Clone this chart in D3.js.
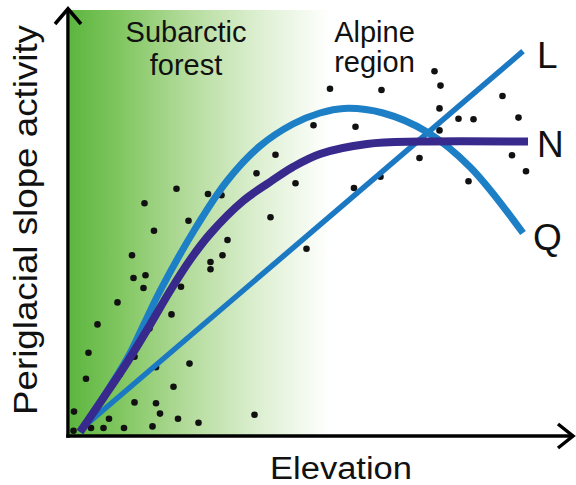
<!DOCTYPE html>
<html>
<head>
<meta charset="utf-8">
<script src="https://cdn.jsdelivr.net/npm/d3@7"></script>
<style>
  html, body { margin: 0; padding: 0; background: #fff; }
  svg { display: block; }
  text { font-family: "Liberation Sans", Arial, sans-serif; fill: #111; }
</style>
</head>
<body>
<svg id="chart" width="576" height="485"></svg>
<script>
// Observed sites: elevation (x) vs periglacial slope activity (y), arbitrary units
const obsElevation = [14.9, 23.7, 40.1, 16.8, 31.5, 12.4, 30.5, 28.1, 28.1, 47.3,
  12.7, 15.1, 14.7, 22.2, 9.5, 20.3, 5.5, 15.9, 3.7, 12.9,
  17.2, 23.9, 10.0, 3.2, 20.7, 12.9, 17.2, 18.0, 0.8, 5.2,
  7.8, 21.6, 25.7, 36.9, 0.7, 4.2, 6.7, 10.8, 16.5, 48.7,
  41.1, 37.3, 45.1, 21.3, 27.6, 30.3, 72.9, 74.1, 52.0, 62.3,
  86.5, 73.9, 77.7, 80.7, 89.7, 57.1, 73.9, 88.4, 69.9, 62.1,
  91.2, 79.7, 56.8];
const obsActivity = [58.2, 53.8, 54.7, 51.3, 49.0, 45.2, 45.2, 43.5, 41.7, 46.8,
  39.5, 40.2, 37.0, 37.3, 33.4, 30.4, 27.9, 26.9, 20.8, 19.8,
  17.2, 18.1, 15.5, 14.3, 12.3, 8.4, 8.2, 5.6, 6.1, 5.9,
  4.3, 4.3, 3.3, 5.3, 1.3, 2.0, 2.0, 2.0, 2.4, 77.7,
  70.3, 65.7, 63.2, 61.8, 60.5, 60.2, 91.2, 87.6, 86.8, 86.5,
  85.0, 81.9, 79.3, 79.2, 79.6, 77.3, 76.4, 70.2, 69.5, 64.8,
  66.2, 63.7, 62.0];

// Response models: linear (L), quadratic (Q) and non-linear saturating (N)
const modelL = [[2, 1.5], [90.6, 96.2]];
const modelQ = [[2, 1], [6.8, 10], [11.6, 19.75], [14.8, 28], [18, 36.25], [25, 51.75],
  [31.4, 63.75], [38, 72.5], [44.6, 78], [50, 80.75], [54.8, 81.9], [62.6, 80.75],
  [71.4, 76], [80, 67.25], [90.6, 50.75]];
const modelN = [[2, 1], [6.8, 9.75], [11.6, 18.75], [16, 27.75], [20, 36.25], [24, 44],
  [28, 50.5], [34.6, 58.75], [40, 63.5], [44.6, 67.25], [50, 70.5], [59.4, 73],
  [70, 73.6], [91.6, 73.6]];

const modelLabels = ["L", "N", "Q"];
const zoneLabels = [["Subarctic", "forest"], ["Alpine", "region"]];
const xTitle = "Elevation";
const yTitle = "Periglacial slope activity";

const svg = d3.select("#chart");

const x = d3.scaleLinear().domain([0, 100]).range([70, 570]);
const y = d3.scaleLinear().domain([0, 100]).range([436, 36]);

// forest zone background: green fading out with elevation
const defs = svg.append("defs");
const grad = defs.append("linearGradient").attr("id", "forestFade")
  .attr("x1", "0%").attr("x2", "100%").attr("y1", "0%").attr("y2", "0%");
[["0%", "#5db63f"], ["20%", "#82c762"], ["45%", "#b3db9b"], ["72%", "#dcefd0"], ["100%", "#ffffff"]]
  .forEach(([o, c]) => grad.append("stop").attr("offset", o).attr("stop-color", c));

svg.append("rect")
  .attr("x", x(0)).attr("y", y(106.5))
  .attr("width", x(52) - x(0)).attr("height", y(0) - y(106.5))
  .attr("fill", "url(#forestFade)");

// observations
svg.append("g").selectAll("circle")
  .data(d3.range(obsElevation.length))
  .join("circle")
  .attr("cx", i => x(obsElevation[i]))
  .attr("cy", i => y(obsActivity[i]))
  .attr("r", 3.3)
  .attr("fill", "#111");

// model curves
const line = d3.line().x(d => x(d[0])).y(d => y(d[1]));
const smooth = d3.line().x(d => x(d[0])).y(d => y(d[1])).curve(d3.curveCatmullRom.alpha(0.5));

svg.append("path").attr("d", line(modelL))
  .attr("fill", "none").attr("stroke", "#1b79c3").attr("stroke-width", 5.5);
svg.append("path").attr("d", smooth(modelQ))
  .attr("fill", "none").attr("stroke", "#1d7fc6").attr("stroke-width", 7);
svg.append("path").attr("d", smooth(modelN))
  .attr("fill", "none").attr("stroke", "#38298c").attr("stroke-width", 8);

// axes (no ticks), with open arrow heads
const axisG = svg.append("g").attr("fill", "none").attr("stroke", "#000")
  .attr("stroke-width", 3.5).attr("stroke-linecap", "butt");
axisG.append("line")
  .attr("x1", x(0) - 2).attr("x2", x(0) - 2)
  .attr("y1", y(0) + 1.75).attr("y2", y(106.5));
axisG.append("line")
  .attr("x1", x(0) - 3.75).attr("x2", x(100.6))
  .attr("y1", y(0)).attr("y2", y(0));
axisG.append("path")
  .attr("d", `M${x(0) - 15},${y(103)} L${x(0) - 2},${y(106.8)} L${x(0) + 11},${y(103)}`)
  .attr("stroke-linejoin", "miter");
axisG.append("path")
  .attr("d", `M${x(97.6)},${y(3)} L${x(100.6)},${y(0)} L${x(97.6)},${y(-3)}`)
  .attr("stroke-linejoin", "miter");

// zone labels
const zoneX = [x(23.2), x(60.9)];
const zoneY = [[42, 75], [42, 72]];
zoneLabels.forEach((lines, i) => {
  lines.forEach((t, j) => {
    svg.append("text").attr("x", zoneX[i]).attr("y", zoneY[i][j])
      .attr("text-anchor", "middle").attr("font-size", 29).text(t);
  });
});

// model labels at line ends
const labelPos = [[x(93.4), 68], [x(93.4), 157], [x(92.6), 250]];
modelLabels.forEach((t, i) => {
  svg.append("text").attr("x", labelPos[i][0]).attr("y", labelPos[i][1])
    .attr("font-size", 37).text(t);
});

// axis titles
svg.append("text").attr("x", 341).attr("y", 479)
  .attr("text-anchor", "middle").attr("font-size", 31)
  .attr("textLength", 142).attr("lengthAdjust", "spacingAndGlyphs")
  .text(xTitle);
svg.append("text")
  .attr("transform", "translate(37,220) rotate(-90)")
  .attr("text-anchor", "middle").attr("font-size", 33)
  .attr("textLength", 390).attr("lengthAdjust", "spacingAndGlyphs")
  .text(yTitle);
</script>
</body>
</html>
